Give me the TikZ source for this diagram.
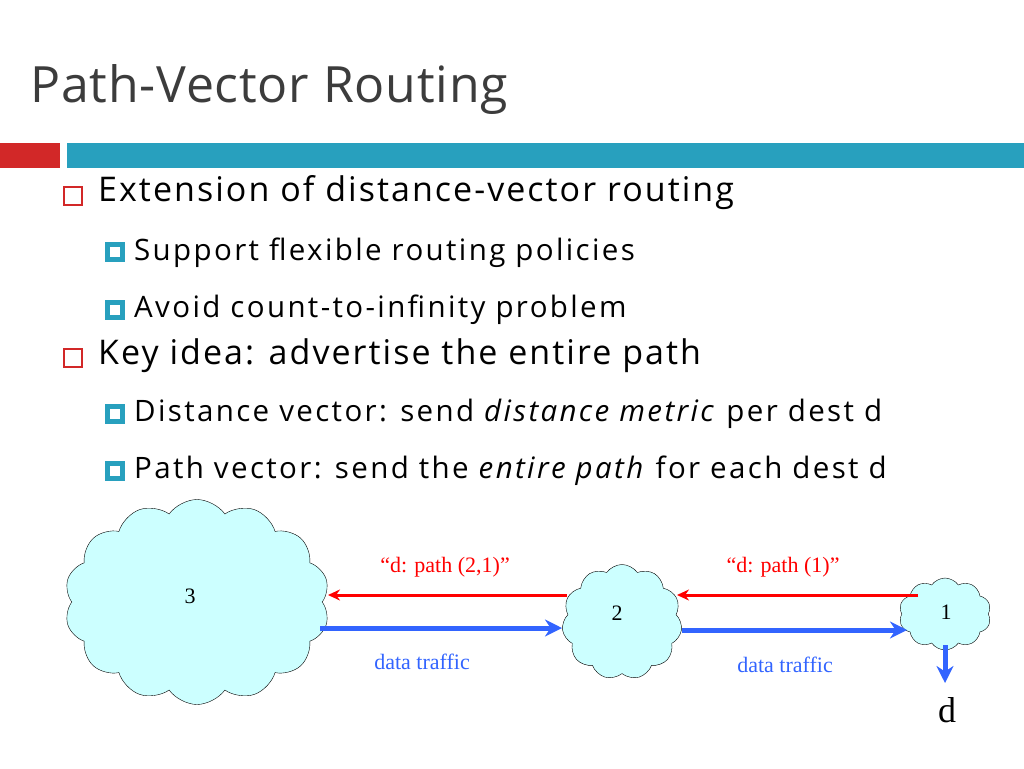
\documentclass[tikz,border=0pt]{standalone}
\usepackage{fontspec}
\setmainfont{Liberation Serif}
\newfontfamily\onefont[LetterSpace=6]{Open Sans}
\newfontfamily\twofont[LetterSpace=8]{Open Sans}
\newfontfamily\titlefont[LetterSpace=1.6]{Open Sans}
\usetikzlibrary{shapes.symbols,arrows.meta}
\definecolor{barred}{RGB}{210,40,40}
\definecolor{barblue}{RGB}{40,160,190}
\definecolor{cloudfill}{RGB}{204,255,255}
\definecolor{arrblue}{RGB}{50,100,255}
\definecolor{txtgray}{RGB}{60,60,60}
\tikzset{
  cloudnode/.style={cloud, cloud puffs=14, cloud puff arc=110, draw=black, fill=cloudfill, inner sep=0pt},
  redarr/.style={draw=red, line width=3pt, -{Stealth[length=12pt,width=11pt]}},
  bluearr/.style={draw=arrblue, line width=5pt, -{Stealth[length=17pt,width=17pt]}},
  lvlone/.style={anchor=west, font=\onefont\fontsize{34}{38}\selectfont, text=black, inner sep=0pt},
  lvltwo/.style={anchor=west, font=\twofont\fontsize{29.5}{32}\selectfont, text=black, inner sep=0pt},
  boxone/.style={draw=barred, line width=1.2pt, minimum size=18pt, inner sep=0pt},
  boxtwo/.style={draw=barblue, fill=white, line width=4.5pt, minimum size=15pt, inner sep=0pt},
  lbl/.style={font=\fontsize{22}{26}\selectfont, inner sep=0pt}
}
\begin{document}
\begin{tikzpicture}[x=1pt,y=-1pt]
\useasboundingbox (0,0) rectangle (1024,768);
\node[anchor=base west, inner sep=0pt, text=txtgray, font=\titlefont\fontsize{50}{54}\selectfont] (title) at (30,102) {Path-Vector Routing};
\fill[barred] (0,143) rectangle (60,168);
\fill[barblue] (67,143) rectangle (1024,168);
% bullets
\node[boxone] (b1) at (73,196) {};
\node[lvlone] (t1) at (98,193) {Extension of distance-vector routing};
\node[boxtwo] (b2) at (115,252) {};
\node[lvltwo] (t2) at (134,253) {Support flexible routing policies};
\node[boxtwo] (b3) at (115,310) {};
\node[lvltwo] (t3) at (134,310) {Avoid count-to-infinity problem};
\node[boxone] (b4) at (73,358) {};
\node[lvlone] (t4) at (98,356) {Key idea: advertise the entire path};
\node[boxtwo] (b5) at (115,414) {};
\node[lvltwo] (t5) at (134,414) {Distance vector: send \textit{distance metric} per dest d};
\node[boxtwo] (b6) at (115,471) {};
\node[lvltwo] (t6) at (134,471) {Path vector: send the \textit{entire path} for each dest d};
% clouds
\node[cloudnode, minimum width=265pt, minimum height=205pt] (c3) at (197,602) {};
\node[cloudnode, minimum width=120pt, minimum height=115pt, cloud puffs=11] (c2) at (622,622) {};
\node[cloudnode, minimum width=92pt, minimum height=72pt, cloud puffs=10] (c1) at (945,614) {};
\node[lbl] (n3) at (190,596) {3};
\node[lbl] (n2) at (617,613) {2};
\node[lbl] (n1) at (946,612) {1};
% arrows
\coordinate (r1s) at (567,595); \coordinate (r1e) at (328,595);
\coordinate (r2s) at (918,595); \coordinate (r2e) at (677,595);
\draw[redarr] (r1s) -- (r1e);
\draw[redarr] (r2s) -- (r2e);
\coordinate (b1s) at (320,628); \coordinate (b1e) at (562,628);
\coordinate (b2s) at (682,630); \coordinate (b2e) at (907,630);
\draw[bluearr] (b1s) -- (b1e);
\draw[bluearr] (b2s) -- (b2e);
\coordinate (dds) at (945,645);
\node[font=\fontsize{36}{40}\selectfont, inner sep=0pt] (dest) at (947,710) {d};
\draw[bluearr] (dds) -- (945,683);
% labels
\node[lbl, text=red] (l1) at (445,567) {“d: path (2,1)”};
\node[lbl, text=red] (l2) at (783,567) {“d: path (1)”};
\node[lbl, text=arrblue] (l3) at (422,662) {data traffic};
\node[lbl, text=arrblue] (l4) at (785,665) {data traffic};
\end{tikzpicture}
\end{document}
